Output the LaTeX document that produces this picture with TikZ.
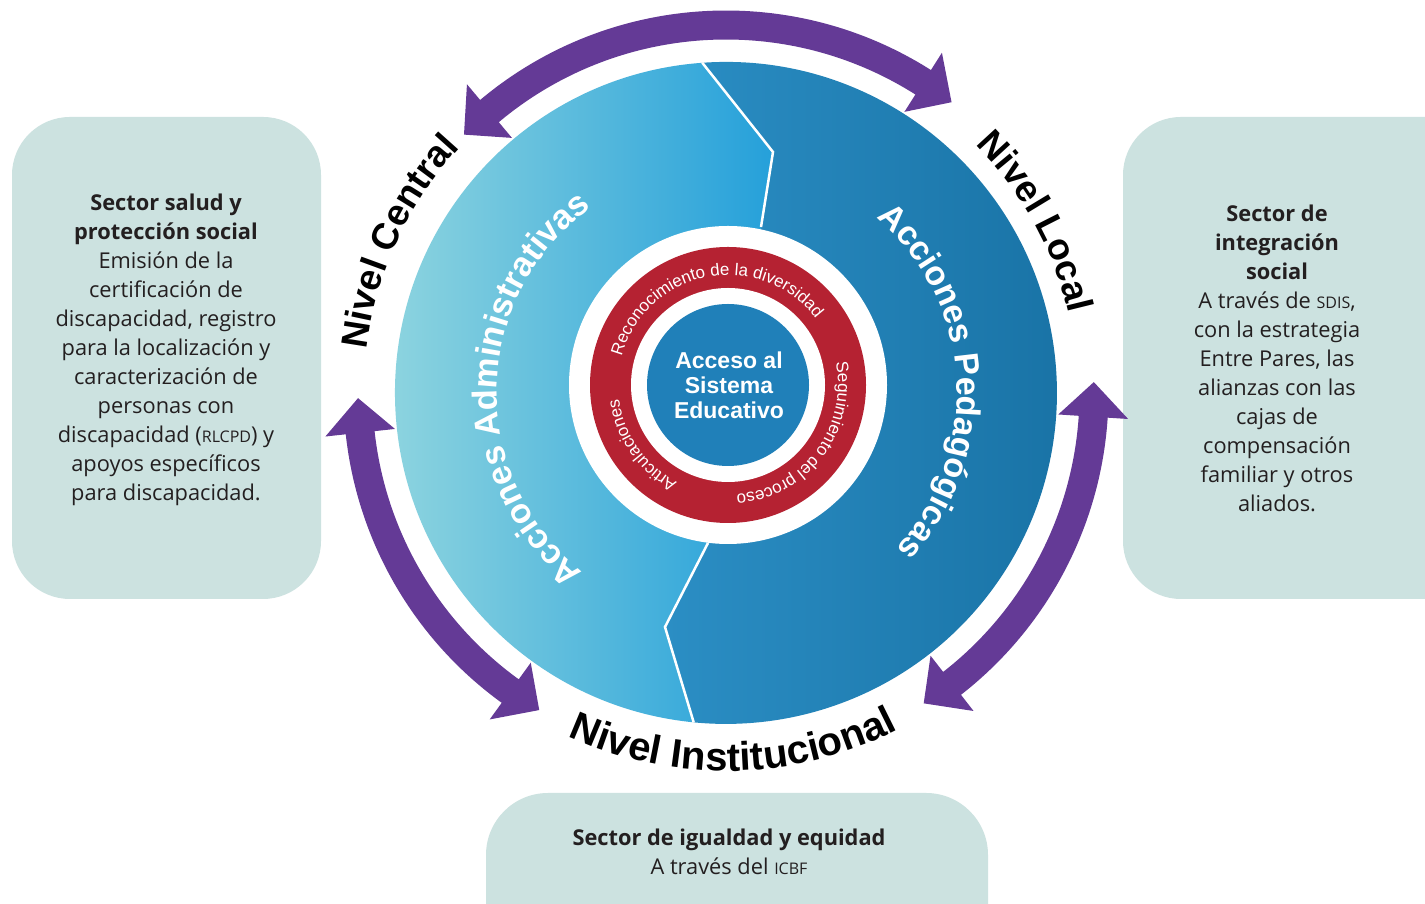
\documentclass[tikz,border=0pt]{standalone}
\usepackage{fontspec}
\setmainfont{Open Sans}
\newfontfamily\labfont{Liberation Sans}
\usetikzlibrary{decorations.text}
\definecolor{purp}{HTML}{643A96}
\definecolor{redr}{HTML}{B52232}
\definecolor{innb}{HTML}{2080B9}
\definecolor{boxc}{HTML}{CCE2E0}
\definecolor{txt}{HTML}{231F20}
\definecolor{lightL}{HTML}{8FD5DF}
\definecolor{lightR}{HTML}{25A0DA}
\definecolor{darkL}{HTML}{2B8EC4}
\definecolor{darkR}{HTML}{1973A6}
\newcommand\purparrow[2]{%
  \fill[purp] (#1:368) -- ({#1-5.4}:403) -- ({#1-5.4}:382.5)
    arc[start angle={#1-5.4}, end angle={#2+5.4}, radius=382.5]
    -- ({#2+5.4}:403) -- (#2:368) -- ({#2+5.4}:333) -- ({#2+5.4}:353.5)
    arc[start angle={#2+5.4}, end angle={#1-5.4}, radius=353.5]
    -- ({#1-5.4}:333) -- cycle;}
\begin{document}
\begin{tikzpicture}[x=1pt,y=1pt,
  boxshape/.style={fill=boxc, rounded corners=58pt},
  boxtext/.style={text=txt, align=center, font=\fontsize{21.8}{29}\selectfont},
  splitline/.style={white, line width=2.5pt}]
\useasboundingbox (0,0) rectangle (1425,904);
\clip (0,0) rectangle (1425,904);
\fill[white] (0,0) rectangle (1425,904);

% boxes
\fill[boxshape] (12,305) rectangle (321,787);
\fill[boxshape] (1123,305) rectangle (1500,787);
\fill[boxc, rounded corners=62pt] (486,-80) rectangle (988,111);

\node[boxtext] (lefttext) at (166,554) {\textbf{Sector salud y}\\
  \textbf{protección social}\\ Emisión de la\\ certificación de\\
  discapacidad, registro\\ para la localización y\\ caracterización de\\
  personas con\\ discapacidad ({\fontsize{16}{16}\selectfont RLCPD}) y\\
  apoyos específicos\\ para discapacidad.};
\node[boxtext] (righttext) at (1277,546) {\textbf{Sector de}\\
  \textbf{integración}\\ \textbf{social}\\ A través de {\fontsize{16}{16}\selectfont SDIS},\\
  con la estrategia\\ Entre Pares, las\\ alianzas con las\\ cajas de\\
  compensación\\ familiar y otros\\ aliados.};
\node[boxtext] (bottomtext) at (729,52) {\textbf{Sector de igualdad y equidad}\\
  A través del {\fontsize{16}{16}\selectfont ICBF}};

% main circle
\coordinate (C) at (726,511);
\coordinate (sTop) at (702.3,841.2);
\coordinate (sK1) at (773,752);
\coordinate (sK2) at (761,677);
\coordinate (sK3) at (708,361);
\coordinate (sK4) at (665,277);
\coordinate (sBot) at (693.7,181.6);
\shade[left color=darkL, right color=darkR] (sTop)
  arc[start angle=94.1, end angle=-95.6, radius=331]
  -- (sK4) -- (sK3) -- (sK2) -- (sK1) -- cycle;
\shade[left color=lightL, right color=lightR] (sTop)
  arc[start angle=94.1, end angle=264.4, radius=331]
  -- (sK4) -- (sK3) -- (sK2) -- (sK1) -- cycle;
\draw[splitline] (sTop) -- (sK1) -- (sK2);
\draw[splitline] (sK3) -- (sK4) -- (sBot);

% purple arrows and outer labels
\begin{scope}[shift={(C)}]
  \purparrow{135.4}{52.2}
  \purparrow{239.5}{180.8}
  \purparrow{1.7}{-57.5}
  \path[decorate, decoration={text along path, text align=center, text color=white,
    text={|\labfont\bfseries\fontsize{34.5}{34.5}\selectfont|Acciones Administrativas}}]
    (258.6:229) arc[start angle=258.6, end angle=98.6, radius=229];
  \path[decorate, decoration={text along path, text align=center, text color=white,
    text={|\labfont\bfseries\fontsize{34}{34}\selectfont|Acciones Pedagógicas}}]
    (83.5:231) arc[start angle=83.5, end angle=-76.5, radius=231];
  \path[decorate, decoration={text along path, text align=center, text color=black,
    text={|\labfont\bfseries\fontsize{37}{37}\selectfont|Nivel Central}}]
    (195.2:362) arc[start angle=195.2, end angle=115.2, radius=362];
  \path[decorate, decoration={text along path, text align=center, text color=black,
    text={|\labfont\bfseries\fontsize{37}{37}\selectfont|Nivel Local}}]
    (68.9:352) arc[start angle=68.9, end angle=-11.1, radius=352];
  \path[decorate, decoration={text along path, text align=center, text color=black,
    text={|\labfont\bfseries\fontsize{40}{40}\selectfont|Nivel Institucional}}]
    (231.2:378) arc[start angle=231.2, end angle=311.2, radius=378];
\end{scope}

% inner rings
\coordinate (I) at (728,519);
\fill[white] (I) circle[radius=159];
\fill[redr] (I) circle[radius=138];
\fill[white] (I) circle[radius=97];
\fill[innb] (I) circle[radius=81];
\begin{scope}[shift={(I)}]
  \path[decorate, decoration={text along path, text align=center, text color=white,
    text={|\labfont\fontsize{17}{17}\selectfont|Reconocimiento de la diversidad}}]
    (171:110) arc[start angle=171, end angle=31, radius=110];
  \path[decorate, decoration={text along path, text align=center, text color=white,
    text={|\labfont\fontsize{17}{17}\selectfont|Seguimiento del proceso}}]
    (23:110) arc[start angle=23, end angle=-97, radius=110];
  \path[decorate, decoration={text along path, text align=center, text color=white,
    text={|\labfont\fontsize{17}{17}\selectfont|Articulaciones}}]
    (265:110) arc[start angle=265, end angle=165, radius=110];
\end{scope}
\node[text=white, align=center, font=\labfont\bfseries\fontsize{23}{25}\selectfont]
  (acceso) at (729,519) {Acceso al\\ Sistema\\ Educativo};
\end{tikzpicture}
\end{document}
